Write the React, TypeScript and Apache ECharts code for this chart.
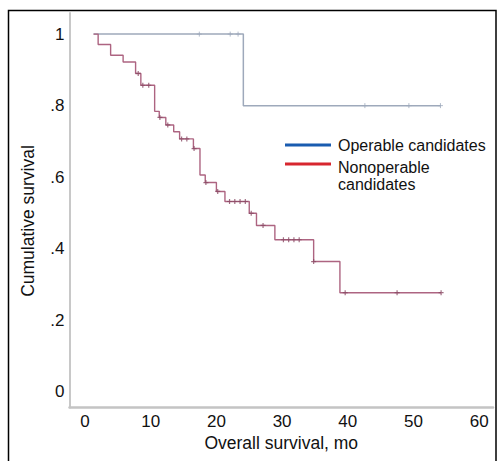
import React, { useEffect, useRef } from "react";
import * as echarts from "echarts";

const seriesNames = ["Operable candidates", "Nonoperable candidates"];
const legendLabels = ["Operable candidates", "Nonoperable\ncandidates"];
const legendColors = ["#1a5cb0", "#d7262e"];
const curveColors = ["#9ea9bb", "#ad6481"];

const xTicks = [0, 10, 20, 30, 40, 50, 60];
const yTicks = [0, 0.2, 0.4, 0.6, 0.8, 1];
const xAxisName = "Overall survival, mo";
const yAxisName = "Cumulative survival";

// Operable candidates
const opStart = 1.3;
const opEventTimes = [24.1];
const opSurvival = [0.8];
const opEnd = 54.1;
const opCensorTimes = [17.4, 22.1, 23.3, 42.6, 49.3, 54.1];

// Nonoperable candidates
const nonStart = 1.3;
const nonEventTimes = [2.0, 3.9, 5.8, 7.7, 8.5, 10.6, 11.3, 12.3, 13.5, 14.4, 16.5, 17.5, 18.3, 20.0, 21.3, 25.0, 26.1, 28.9, 34.8, 38.8];
const nonSurvival = [0.971, 0.941, 0.922, 0.89, 0.857, 0.784, 0.767, 0.746, 0.727, 0.707, 0.68, 0.606, 0.585, 0.56, 0.532, 0.499, 0.465, 0.425, 0.364, 0.277];
const nonEnd = 54.2;
const nonCensorTimes = [8.1, 8.8, 9.7, 11.4, 12.6, 14.7, 15.5, 16.6, 18.4, 20.2, 22.0, 22.8, 23.6, 24.4, 25.3, 27.1, 30.2, 31.0, 31.8, 32.6, 34.8, 39.6, 47.5, 54.2];

function stepPoints(start: number, times: number[], surv: number[], end: number) {
  const pts: number[][] = [[start, 1]];
  let prev = 1;
  times.forEach((t, i) => {
    pts.push([t, prev]);
    pts.push([t, surv[i]]);
    prev = surv[i];
  });
  pts.push([end, prev]);
  return pts;
}

function survAt(t: number, times: number[], surv: number[]) {
  let s = 1;
  times.forEach((et, i) => {
    if (et <= t) s = surv[i];
  });
  return s;
}

const FONT = "'Liberation Sans', Arial, Helvetica, sans-serif";

export default function App() {
  const ref = useRef<HTMLDivElement>(null);
  useEffect(() => {
    if (!ref.current) return;
    const chart = echarts.init(ref.current, undefined, { renderer: "svg" });
    const censorSymbol = "path://M5,0L5,10M0,5L10,5";
    const legendGraphics: any[] = [];
    const legendYs = [145, 164];
    legendLabels.forEach((lab, i) => {
      legendGraphics.push({
        type: "line",
        shape: { x1: 285, y1: legendYs[i], x2: 331, y2: legendYs[i] },
        style: { stroke: legendColors[i], lineWidth: 3 },
      });
      legendGraphics.push({
        type: "text",
        x: 338,
        y: i === 0 ? 145 : 159,
        style: {
          text: lab,
          fill: "#111",
          font: `16px ${FONT}`,
          textVerticalAlign: i === 0 ? "middle" : "top",
          lineHeight: 17,
        },
      });
    });

    chart.setOption({
      animation: false,
      backgroundColor: "#fff",
      grid: { left: 69.5, right: 4, top: 13, bottom: 53.5, containLabel: false },
      xAxis: {
        type: "value",
        min: -2.36,
        max: 62.1,
        name: xAxisName,
        nameLocation: "middle",
        nameGap: 21,
        nameTextStyle: { fontFamily: FONT, fontSize: 17.5, color: "#111", verticalAlign: "top" },
        axisLine: { show: true, onZero: false, lineStyle: { color: "#c4c4c4", width: 2.5 } },
        axisTick: { show: false },
        splitLine: { show: false },
        axisLabel: {
          customValues: xTicks,
          fontFamily: FONT,
          fontSize: 17,
          color: "#111",
          margin: 5,
        },
      },
      yAxis: {
        type: "value",
        min: -0.044,
        max: 1.059,
        axisLine: { show: true, onZero: false, lineStyle: { color: "#c8c8c8", width: 2 } },
        axisTick: { show: false },
        splitLine: { show: false },
        axisLabel: {
          customValues: yTicks,
          fontFamily: FONT,
          fontSize: 17,
          color: "#111",
          margin: 5,
          formatter: (v: number) => (v === 0 ? "0" : v === 1 ? "1" : String(v).replace(/^0/, "")),
        },
      },
      graphic: [
        {
          type: "rect",
          shape: { x: 8.5, y: 10.5, width: 487.5, height: 480 },
          style: { fill: "none", stroke: "#000", lineWidth: 1.5 },
          silent: true,
        },
        {
          type: "text",
          x: 28,
          y: 221,
          rotation: Math.PI / 2,
          style: {
            text: yAxisName,
            fill: "#111",
            font: `17.5px ${FONT}`,
            textAlign: "center",
            textVerticalAlign: "middle",
          },
        },
        ...legendGraphics,
      ],
      series: [
        {
          name: seriesNames[0],
          type: "line",
          data: stepPoints(opStart, opEventTimes, opSurvival, opEnd),
          showSymbol: false,
          lineStyle: { color: curveColors[0], width: 1.5 },
          z: 3,
        },
        {
          name: seriesNames[0] + " censored",
          type: "scatter",
          data: opCensorTimes.map((t) => [t, survAt(t, opEventTimes, opSurvival)]),
          symbol: censorSymbol,
          symbolSize: 5,
          itemStyle: { color: "transparent", borderColor: curveColors[0], borderWidth: 1 },
          z: 4,
        },
        {
          name: seriesNames[1],
          type: "line",
          data: stepPoints(nonStart, nonEventTimes, nonSurvival, nonEnd),
          showSymbol: false,
          lineStyle: { color: curveColors[1], width: 1.4 },
          z: 3,
        },
        {
          name: seriesNames[1] + " censored",
          type: "scatter",
          data: nonCensorTimes.map((t) => [t, survAt(t, nonEventTimes, nonSurvival)]),
          symbol: censorSymbol,
          symbolSize: 5,
          itemStyle: { color: "transparent", borderColor: "#8a4a64", borderWidth: 1.2 },
          z: 4,
        },
      ],
    });
    return () => chart.dispose();
  }, []);
  return <div ref={ref} style={{ width: 497, height: 461, position: "absolute", left: 0, top: 0 }} />;
}
